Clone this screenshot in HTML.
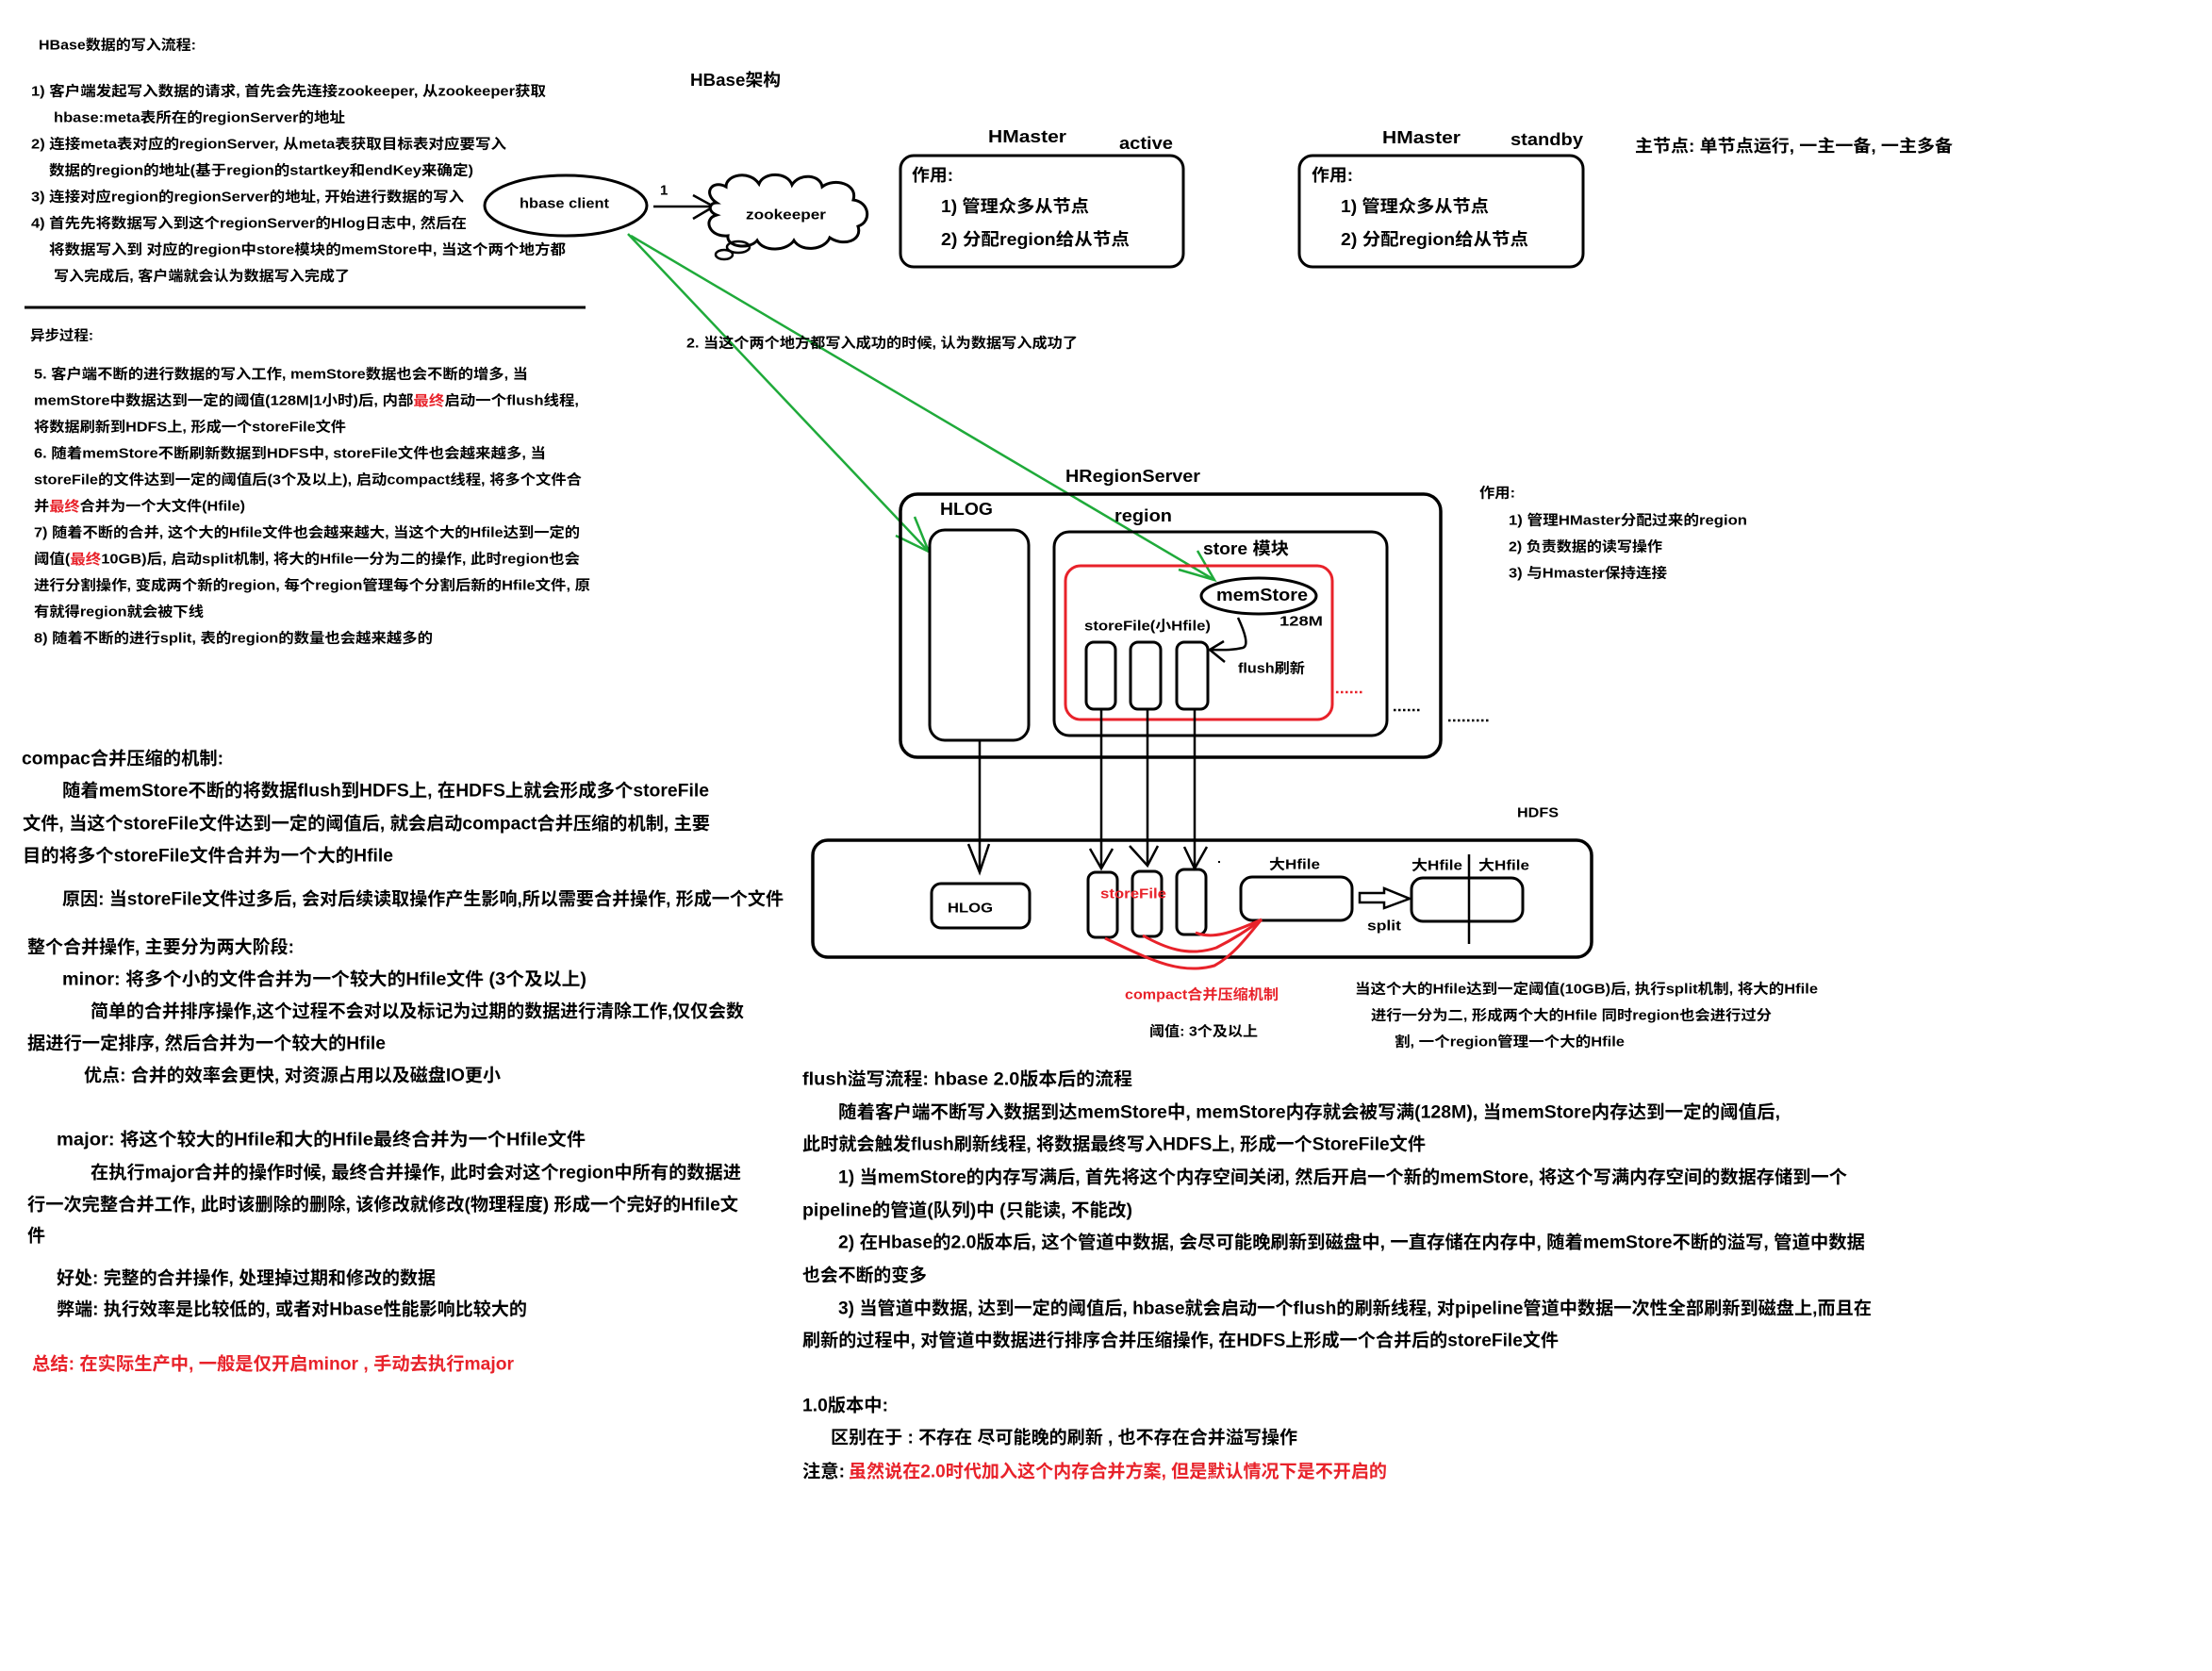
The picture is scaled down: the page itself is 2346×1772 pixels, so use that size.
<!DOCTYPE html>
<html><head><meta charset="utf-8"><style>
html,body{margin:0;padding:0;background:#fff;}
svg{display:block;}
text{font-family:"Liberation Sans","Noto Sans CJK SC",sans-serif;font-weight:bold;fill:#000;dominant-baseline:central;}
.s{font-size:15px;}
.m{font-size:18px;}
.l{font-size:19px;}
.r{fill:#e8222a;}
</style></head><body>
<svg width="2346" height="1772" viewBox="0 0 2346 1772" xmlns="http://www.w3.org/2000/svg">
<rect width="2346" height="1772" fill="#fff"/>
<!-- top-left write flow -->
<text class="s" x="41" y="48" textLength="167" lengthAdjust="spacingAndGlyphs">HBase数据的写入流程:</text>
<text class="s" x="33" y="97" textLength="546" lengthAdjust="spacingAndGlyphs">1) 客户端发起写入数据的请求, 首先会先连接zookeeper, 从zookeeper获取</text>
<text class="s" x="57" y="125" textLength="309" lengthAdjust="spacingAndGlyphs">hbase:meta表所在的regionServer的地址</text>
<text class="s" x="33" y="153" textLength="504" lengthAdjust="spacingAndGlyphs">2) 连接meta表对应的regionServer, 从meta表获取目标表对应要写入</text>
<text class="s" x="52" y="181" textLength="450" lengthAdjust="spacingAndGlyphs">数据的region的地址(基于region的startkey和endKey来确定)</text>
<text class="s" x="33" y="209" textLength="459" lengthAdjust="spacingAndGlyphs">3) 连接对应region的regionServer的地址, 开始进行数据的写入</text>
<text class="s" x="33" y="237" textLength="462" lengthAdjust="spacingAndGlyphs">4) 首先先将数据写入到这个regionServer的Hlog日志中, 然后在</text>
<text class="s" x="52" y="265" textLength="548" lengthAdjust="spacingAndGlyphs">将数据写入到 对应的region中store模块的memStore中, 当这个两个地方都</text>
<text class="s" x="57" y="293" textLength="314" lengthAdjust="spacingAndGlyphs">写入完成后, 客户端就会认为数据写入完成了</text>
<line x1="26" y1="326" x2="621" y2="326" stroke="#000" stroke-width="3"/>
<text class="s" x="32" y="356" textLength="67" lengthAdjust="spacingAndGlyphs">异步过程:</text>
<text class="s" x="36" y="397" textLength="524" lengthAdjust="spacingAndGlyphs">5. 客户端不断的进行数据的写入工作, memStore数据也会不断的增多, 当</text>
<text class="s" x="36" y="425" textLength="578" lengthAdjust="spacingAndGlyphs">memStore中数据达到一定的阈值(128M|1小时)后, 内部<tspan class="r">最终</tspan>启动一个flush线程,</text>
<text class="s" x="36" y="453" textLength="331" lengthAdjust="spacingAndGlyphs">将数据刷新到HDFS上, 形成一个storeFile文件</text>
<text class="s" x="36" y="481" textLength="543" lengthAdjust="spacingAndGlyphs">6. 随着memStore不断刷新数据到HDFS中, storeFile文件也会越来越多, 当</text>
<text class="s" x="36" y="509" textLength="581" lengthAdjust="spacingAndGlyphs">storeFile的文件达到一定的阈值后(3个及以上), 启动compact线程, 将多个文件合</text>
<text class="s" x="36" y="537" textLength="224" lengthAdjust="spacingAndGlyphs">并<tspan class="r">最终</tspan>合并为一个大文件(Hfile)</text>
<text class="s" x="36" y="565" textLength="579" lengthAdjust="spacingAndGlyphs">7) 随着不断的合并, 这个大的Hfile文件也会越来越大, 当这个大的Hfile达到一定的</text>
<text class="s" x="36" y="593" textLength="579" lengthAdjust="spacingAndGlyphs">阈值(<tspan class="r">最终</tspan>10GB)后, 启动split机制, 将大的Hfile一分为二的操作, 此时region也会</text>
<text class="s" x="36" y="621" textLength="590" lengthAdjust="spacingAndGlyphs">进行分割操作, 变成两个新的region, 每个region管理每个分割后新的Hfile文件, 原</text>
<text class="s" x="36" y="649" textLength="180" lengthAdjust="spacingAndGlyphs">有就得region就会被下线</text>
<text class="s" x="36" y="677" textLength="423" lengthAdjust="spacingAndGlyphs">8) 随着不断的进行split, 表的region的数量也会越来越多的</text>

<!-- HBase arch title -->
<text class="m" x="732" y="85" textLength="96" lengthAdjust="spacingAndGlyphs">HBase架构</text>

<!-- hbase client -->
<ellipse cx="600" cy="218" rx="86" ry="32" fill="none" stroke="#000" stroke-width="3"/>
<text class="s" x="551" y="216" textLength="95" lengthAdjust="spacingAndGlyphs">hbase client</text>
<text class="s" x="700" y="202">1</text>
<line x1="693" y1="219" x2="757" y2="219" stroke="#000" stroke-width="2.5"/>
<polyline points="735,207 757,219 735,232" fill="none" stroke="#000" stroke-width="2.5"/>
<!-- cloud -->
<path d="M760,215 C745,205 755,190 770,198 C770,185 795,180 805,195 C810,182 835,182 840,196 C848,183 870,185 872,198 C885,188 910,195 905,212 C922,214 925,235 910,240 C915,255 895,262 880,252 C875,265 850,268 842,255 C835,266 810,268 803,255 C795,265 770,262 772,250 C752,252 745,232 760,228 C750,224 752,215 760,215 Z" fill="#fff" stroke="#000" stroke-width="3"/>
<ellipse cx="783" cy="262" rx="12" ry="6" fill="none" stroke="#000" stroke-width="2.5"/>
<ellipse cx="768" cy="270" rx="9" ry="5" fill="none" stroke="#000" stroke-width="2.5"/>
<text class="s" x="791" y="228" textLength="85" lengthAdjust="spacingAndGlyphs">zookeeper</text>

<!-- green arrows -->
<line x1="666" y1="248" x2="985" y2="585" stroke="#1faa3a" stroke-width="2.5"/>
<polyline points="970,548 985,585 950,568" fill="none" stroke="#1faa3a" stroke-width="2.5"/>
<line x1="669" y1="250" x2="1288" y2="615" stroke="#1faa3a" stroke-width="2.5"/>
<polyline points="1270,584 1288,615 1250,604" fill="none" stroke="#1faa3a" stroke-width="2.5"/>
<text class="s" x="728" y="364" textLength="415" lengthAdjust="spacingAndGlyphs">2. 当这个两个地方都写入成功的时候, 认为数据写入成功了</text>

<!-- HMaster active -->
<text class="m" x="1048" y="145" textLength="83" lengthAdjust="spacingAndGlyphs">HMaster</text>
<text class="m" x="1187" y="152" textLength="57" lengthAdjust="spacingAndGlyphs">active</text>
<rect x="955" y="165" width="300" height="118" rx="14" fill="none" stroke="#000" stroke-width="3"/>
<text class="m" x="967" y="186" textLength="44" lengthAdjust="spacingAndGlyphs">作用:</text>
<text class="m" x="998" y="219" textLength="157" lengthAdjust="spacingAndGlyphs">1) 管理众多从节点</text>
<text class="m" x="998" y="254" textLength="200" lengthAdjust="spacingAndGlyphs">2) 分配region给从节点</text>
<!-- HMaster standby -->
<text class="m" x="1466" y="146" textLength="83" lengthAdjust="spacingAndGlyphs">HMaster</text>
<text class="m" x="1602" y="148" textLength="77" lengthAdjust="spacingAndGlyphs">standby</text>
<rect x="1378" y="165" width="301" height="118" rx="14" fill="none" stroke="#000" stroke-width="3"/>
<text class="m" x="1391" y="186" textLength="44" lengthAdjust="spacingAndGlyphs">作用:</text>
<text class="m" x="1422" y="219" textLength="157" lengthAdjust="spacingAndGlyphs">1) 管理众多从节点</text>
<text class="m" x="1422" y="254" textLength="199" lengthAdjust="spacingAndGlyphs">2) 分配region给从节点</text>
<text class="m" x="1734" y="155" textLength="337" lengthAdjust="spacingAndGlyphs">主节点: 单节点运行, 一主一备, 一主多备</text>

<!-- HRegionServer -->
<text class="m" x="1130" y="505" textLength="143" lengthAdjust="spacingAndGlyphs">HRegionServer</text>
<rect x="955" y="524" width="573" height="279" rx="18" fill="none" stroke="#000" stroke-width="3.5"/>
<text class="m" x="997" y="540" textLength="56" lengthAdjust="spacingAndGlyphs">HLOG</text>
<rect x="986" y="562" width="105" height="223" rx="16" fill="none" stroke="#000" stroke-width="3"/>
<text class="m" x="1182" y="547" textLength="61" lengthAdjust="spacingAndGlyphs">region</text>
<rect x="1118" y="564" width="353" height="216" rx="16" fill="none" stroke="#000" stroke-width="3"/>
<text class="m" x="1276" y="582" textLength="91" lengthAdjust="spacingAndGlyphs">store 模块</text>
<rect x="1130" y="600" width="283" height="163" rx="16" fill="none" stroke="#e8222a" stroke-width="3"/>
<ellipse cx="1335" cy="632" rx="61" ry="19" fill="none" stroke="#000" stroke-width="3"/>
<text class="m" x="1290" y="631" textLength="97" lengthAdjust="spacingAndGlyphs">memStore</text>
<text class="s" x="1357" y="659" textLength="46" lengthAdjust="spacingAndGlyphs">128M</text>
<text class="s" x="1150" y="664" textLength="134" lengthAdjust="spacingAndGlyphs">storeFile(小Hfile)</text>
<rect x="1152" y="681" width="31" height="71" rx="8" fill="none" stroke="#000" stroke-width="3"/>
<rect x="1199" y="681" width="32" height="71" rx="8" fill="none" stroke="#000" stroke-width="3"/>
<rect x="1248" y="681" width="33" height="71" rx="8" fill="none" stroke="#000" stroke-width="3"/>
<path d="M1313,655 C1320,670 1325,685 1318,687 C1305,690 1295,689 1283,689" fill="none" stroke="#000" stroke-width="2.5"/>
<polyline points="1298,680 1283,689 1299,702" fill="none" stroke="#000" stroke-width="2.5"/>
<text class="s" x="1313" y="709" textLength="71" lengthAdjust="spacingAndGlyphs">flush刷新</text>
<line x1="1417" y1="734" x2="1445" y2="734" stroke="#e8222a" stroke-width="2.5" stroke-dasharray="2.5,2.5"/>
<line x1="1478" y1="753" x2="1507" y2="753" stroke="#000" stroke-width="2.5" stroke-dasharray="2.5,2.5"/>
<line x1="1536" y1="764" x2="1580" y2="764" stroke="#000" stroke-width="2.5" stroke-dasharray="2.5,2.5"/>
<text class="s" x="1569" y="523" textLength="38" lengthAdjust="spacingAndGlyphs">作用:</text>
<text class="s" x="1600" y="552" textLength="253" lengthAdjust="spacingAndGlyphs">1) 管理HMaster分配过来的region</text>
<text class="s" x="1600" y="580" textLength="163" lengthAdjust="spacingAndGlyphs">2) 负责数据的读写操作</text>
<text class="s" x="1600" y="608" textLength="168" lengthAdjust="spacingAndGlyphs">3) 与Hmaster保持连接</text>

<!-- vertical arrows -->
<line x1="1039" y1="785" x2="1039" y2="925" stroke="#000" stroke-width="2.5"/>
<polyline points="1027,895 1039,925 1049,895" fill="none" stroke="#000" stroke-width="2.5"/>
<line x1="1168" y1="752" x2="1168" y2="921" stroke="#000" stroke-width="2.5"/>
<polyline points="1156,900 1168,921 1180,900" fill="none" stroke="#000" stroke-width="2.5"/>
<line x1="1217" y1="752" x2="1217" y2="918" stroke="#000" stroke-width="2.5"/>
<polyline points="1198,897 1217,918 1228,897" fill="none" stroke="#000" stroke-width="2.5"/>
<line x1="1267" y1="752" x2="1267" y2="921" stroke="#000" stroke-width="2.5"/>
<polyline points="1256,898 1267,921 1280,898" fill="none" stroke="#000" stroke-width="2.5"/>

<!-- HDFS -->
<text class="s" x="1609" y="862" textLength="44" lengthAdjust="spacingAndGlyphs">HDFS</text>
<rect x="862" y="891" width="826" height="124" rx="16" fill="none" stroke="#000" stroke-width="3.5"/>
<rect x="988" y="937" width="104" height="47" rx="10" fill="none" stroke="#000" stroke-width="3"/>
<text class="s" x="1005" y="963" textLength="48" lengthAdjust="spacingAndGlyphs">HLOG</text>
<rect x="1154" y="925" width="31" height="69" rx="8" fill="none" stroke="#000" stroke-width="3"/>
<rect x="1201" y="924" width="31" height="69" rx="8" fill="none" stroke="#000" stroke-width="3"/>
<rect x="1248" y="922" width="31" height="69" rx="8" fill="none" stroke="#000" stroke-width="3"/>
<text class="s r" x="1167" y="948" textLength="70" lengthAdjust="spacingAndGlyphs">storeFile</text>
<rect x="1292" y="913" width="2" height="2" fill="#000"/>
<text class="s" x="1346" y="917" textLength="54" lengthAdjust="spacingAndGlyphs">大Hfile</text>
<rect x="1316" y="930" width="118" height="46" rx="12" fill="none" stroke="#000" stroke-width="3"/>
<path d="M1442,947 L1468,947 L1468,942 L1495,953 L1468,963 L1468,957 L1442,957 Z" fill="none" stroke="#000" stroke-width="2.5"/>
<text class="s" x="1450" y="982" textLength="36" lengthAdjust="spacingAndGlyphs">split</text>
<rect x="1497" y="931" width="118" height="46" rx="12" fill="none" stroke="#000" stroke-width="3"/>
<line x1="1558" y1="906" x2="1558" y2="1001" stroke="#000" stroke-width="2.5"/>
<text class="s" x="1497" y="918" textLength="54" lengthAdjust="spacingAndGlyphs">大Hfile</text>
<text class="s" x="1568" y="918" textLength="54" lengthAdjust="spacingAndGlyphs">大Hfile</text>
<path d="M1172,995 C1215,1015 1250,1035 1288,1024 C1310,1012 1325,990 1338,975" fill="none" stroke="#e8222a" stroke-width="3"/>
<path d="M1212,992 C1235,1005 1260,1015 1290,1005 C1310,995 1325,985 1338,975" fill="none" stroke="#e8222a" stroke-width="3"/>
<path d="M1268,989 C1285,996 1305,990 1338,975" fill="none" stroke="#e8222a" stroke-width="3"/>
<text class="s r" x="1193" y="1055" textLength="163" lengthAdjust="spacingAndGlyphs">compact合并压缩机制</text>
<text class="s" x="1219" y="1094" textLength="115" lengthAdjust="spacingAndGlyphs">阈值: 3个及以上</text>
<text class="s" x="1437" y="1049" textLength="491" lengthAdjust="spacingAndGlyphs">当这个大的Hfile达到一定阈值(10GB)后, 执行split机制, 将大的Hfile</text>
<text class="s" x="1454" y="1077" textLength="425" lengthAdjust="spacingAndGlyphs">进行一分为二, 形成两个大的Hfile 同时region也会进行过分</text>
<text class="s" x="1479" y="1105" textLength="244" lengthAdjust="spacingAndGlyphs">割, 一个region管理一个大的Hfile</text>

<!-- lower left compact -->
<text class="l" x="23" y="805" textLength="214" lengthAdjust="spacingAndGlyphs">compac合并压缩的机制:</text>
<text class="l" x="66" y="839" textLength="686" lengthAdjust="spacingAndGlyphs">随着memStore不断的将数据flush到HDFS上, 在HDFS上就会形成多个storeFile</text>
<text class="l" x="24" y="874" textLength="729" lengthAdjust="spacingAndGlyphs">文件, 当这个storeFile文件达到一定的阈值后, 就会启动compact合并压缩的机制, 主要</text>
<text class="l" x="24" y="908" textLength="393" lengthAdjust="spacingAndGlyphs">目的将多个storeFile文件合并为一个大的Hfile</text>
<text class="l" x="66" y="954" textLength="765" lengthAdjust="spacingAndGlyphs">原因: 当storeFile文件过多后, 会对后续读取操作产生影响,所以需要合并操作, 形成一个文件</text>
<text class="l" x="29" y="1005" textLength="283" lengthAdjust="spacingAndGlyphs">整个合并操作, 主要分为两大阶段:</text>
<text class="l" x="66" y="1039" textLength="556" lengthAdjust="spacingAndGlyphs">minor:   将多个小的文件合并为一个较大的Hfile文件 (3个及以上)</text>
<text class="l" x="96" y="1073" textLength="693" lengthAdjust="spacingAndGlyphs">简单的合并排序操作,这个过程不会对以及标记为过期的数据进行清除工作,仅仅会数</text>
<text class="l" x="29" y="1107" textLength="380" lengthAdjust="spacingAndGlyphs">据进行一定排序, 然后合并为一个较大的Hfile</text>
<text class="l" x="89" y="1141" textLength="442" lengthAdjust="spacingAndGlyphs">优点: 合并的效率会更快, 对资源占用以及磁盘IO更小</text>
<text class="l" x="60" y="1209" textLength="561" lengthAdjust="spacingAndGlyphs">major:   将这个较大的Hfile和大的Hfile最终合并为一个Hfile文件</text>
<text class="l" x="96" y="1244" textLength="690" lengthAdjust="spacingAndGlyphs">在执行major合并的操作时候, 最终合并操作, 此时会对这个region中所有的数据进</text>
<text class="l" x="29" y="1278" textLength="754" lengthAdjust="spacingAndGlyphs">行一次完整合并工作, 此时该删除的删除, 该修改就修改(物理程度) 形成一个完好的Hfile文</text>
<text class="l" x="29" y="1311">件</text>
<text class="l" x="60" y="1356" textLength="402" lengthAdjust="spacingAndGlyphs">好处: 完整的合并操作, 处理掉过期和修改的数据</text>
<text class="l" x="60" y="1389" textLength="499" lengthAdjust="spacingAndGlyphs">弊端: 执行效率是比较低的, 或者对Hbase性能影响比较大的</text>
<text class="l r" x="34" y="1447" textLength="511" lengthAdjust="spacingAndGlyphs">总结: 在实际生产中, 一般是仅开启minor , 手动去执行major</text>

<!-- flush -->
<text class="l" x="851" y="1145" textLength="350" lengthAdjust="spacingAndGlyphs">flush溢写流程:   hbase 2.0版本后的流程</text>
<text class="l" x="889" y="1180" textLength="999" lengthAdjust="spacingAndGlyphs">随着客户端不断写入数据到达memStore中, memStore内存就会被写满(128M), 当memStore内存达到一定的阈值后,</text>
<text class="l" x="851" y="1214" textLength="661" lengthAdjust="spacingAndGlyphs">此时就会触发flush刷新线程, 将数据最终写入HDFS上, 形成一个StoreFile文件</text>
<text class="l" x="889" y="1249" textLength="1070" lengthAdjust="spacingAndGlyphs">1) 当memStore的内存写满后, 首先将这个内存空间关闭, 然后开启一个新的memStore, 将这个写满内存空间的数据存储到一个</text>
<text class="l" x="851" y="1284" textLength="350" lengthAdjust="spacingAndGlyphs">pipeline的管道(队列)中 (只能读, 不能改)</text>
<text class="l" x="889" y="1318" textLength="1089" lengthAdjust="spacingAndGlyphs">2) 在Hbase的2.0版本后, 这个管道中数据, 会尽可能晚刷新到磁盘中, 一直存储在内存中,  随着memStore不断的溢写, 管道中数据</text>
<text class="l" x="851" y="1353" textLength="132" lengthAdjust="spacingAndGlyphs">也会不断的变多</text>
<text class="l" x="889" y="1388" textLength="1096" lengthAdjust="spacingAndGlyphs">3) 当管道中数据, 达到一定的阈值后, hbase就会启动一个flush的刷新线程, 对pipeline管道中数据一次性全部刷新到磁盘上,而且在</text>
<text class="l" x="851" y="1422" textLength="802" lengthAdjust="spacingAndGlyphs">刷新的过程中, 对管道中数据进行排序合并压缩操作, 在HDFS上形成一个合并后的storeFile文件</text>
<text class="l" x="851" y="1491" textLength="91" lengthAdjust="spacingAndGlyphs">1.0版本中:</text>
<text class="l" x="881" y="1525" textLength="495" lengthAdjust="spacingAndGlyphs">区别在于 : 不存在 尽可能晚的刷新 , 也不存在合并溢写操作</text>
<text class="l" x="851" y="1561" textLength="45" lengthAdjust="spacingAndGlyphs">注意:</text>
<text class="l r" x="900" y="1561" textLength="571" lengthAdjust="spacingAndGlyphs">虽然说在2.0时代加入这个内存合并方案, 但是默认情况下是不开启的</text>
</svg>
</body></html>
